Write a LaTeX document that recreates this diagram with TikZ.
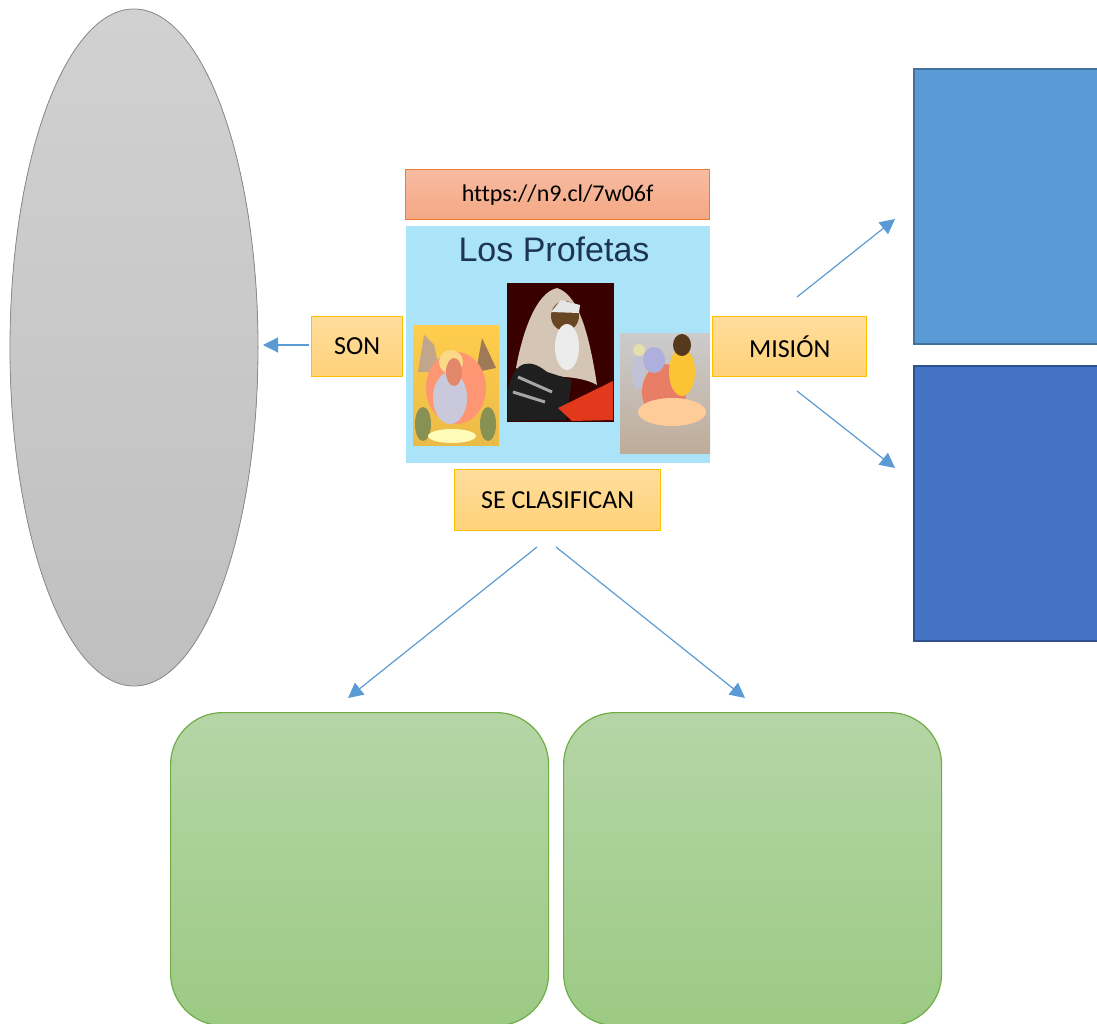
\documentclass[tikz,border=0pt]{standalone}
\usepackage{fontspec}
\setmainfont[Ligatures=NoCommon]{Carlito}
\newfontfamily\arialfont{Liberation Sans}
\usetikzlibrary{arrows.meta}
\definecolor{orangeedge}{HTML}{FFC000}
\definecolor{orangetop}{HTML}{FFDD9C}
\definecolor{orangebot}{HTML}{FFD27A}
\definecolor{urledge}{HTML}{ED7D31}
\definecolor{urltop}{HTML}{F7BBA1}
\definecolor{urlbot}{HTML}{F4A884}
\definecolor{linkblue}{HTML}{5B9BD5}
\definecolor{blueA}{HTML}{5B9BD5}
\definecolor{blueAedge}{HTML}{41719C}
\definecolor{blueB}{HTML}{4472C4}
\definecolor{blueBedge}{HTML}{2F528F}
\definecolor{greenedge}{HTML}{70AD47}
\definecolor{greentop}{HTML}{B5D5A6}
\definecolor{greenbot}{HTML}{9CCA84}
\definecolor{skybg}{HTML}{ABE3F9}
\definecolor{titleink}{HTML}{1C3550}
\tikzset{
  labelbox/.style={draw=orangeedge,line width=1.3pt,top color=orangetop,bottom color=orangebot,
    minimum height=60pt,inner sep=0pt,font=\fontsize{26}{28}\selectfont,text=black,anchor=north west},
  urlbox/.style={draw=urledge,line width=1.3pt,top color=urltop,bottom color=urlbot,
    minimum width=304pt,minimum height=50pt,inner sep=0pt,font=\fontsize{24}{26}\selectfont,text=black,anchor=north west},
  bluebox/.style={line width=2pt,anchor=north west,minimum width=200pt,minimum height=275pt,inner sep=0pt},
  greenbox/.style={draw=greenedge,line width=1.2pt,top color=greentop,bottom color=greenbot,rounded corners=52pt,
    anchor=north west,minimum width=378pt,minimum height=313pt,inner sep=0pt},
  linkarrow/.style={draw=linkblue,line width=1.2pt,-{Triangle[length=15pt,width=15pt,fill=linkblue]}},
  photo/.style={anchor=north west,inner sep=0pt},
}
\begin{document}
\begin{tikzpicture}[x=1pt,y=-1pt]
\useasboundingbox (0,0) rectangle (1097,1024);
\clip (0,0) rectangle (1097,1024);
% gray ellipse
\fill[draw=black!45,line width=.8pt,top color=black!18,bottom color=black!25] (134,347.5) ellipse [x radius=124,y radius=338.5];
% blue boxes
\node[bluebox,draw=blueAedge,fill=blueA] (mission1) at (913,68) {};
\node[bluebox,draw=blueBedge,fill=blueB] (mission2) at (913,365) {};
% green boxes
\node[greenbox] (class1) at (170,712) {};
\node[greenbox] (class2) at (563,712) {};
% url
\node[urlbox] (url) at (405,169) {\raisebox{-1.5pt}{https://n9.cl/7w06f}};
% picture panel
\node[photo,fill=skybg,minimum width=304pt,minimum height=237pt] (panel) at (406,226) {};
\node[anchor=center,inner sep=0pt,font=\arialfont\fontsize{34}{36}\selectfont,text=titleink] (title) at (554,249) {Los Profetas};
% left icon
\node[photo,minimum width=86pt,minimum height=120pt,top color=yellow!45!orange!70!white,bottom color=orange!45!yellow!60!brown!80] (iconleft) at (413,325) {};
\fill[brown!60!gray!70] (418,372) -- (424,335) -- (434,345) -- (440,372) -- cycle;
\fill[brown!70!black!80] (482,338) -- (476,372) -- (496,368) -- cycle;
\fill[red!50!orange!55!white] (456,388) ellipse [x radius=30,y radius=36];
\fill[blue!20!gray!35!white] (450,398) ellipse [x radius=17,y radius=26];
\fill[yellow!40!orange!45!white] (451,362) circle [radius=12];
\fill[red!35!brown!70] (454,372) ellipse [x radius=8,y radius=14];
\fill[green!25!brown!55!gray] (423,424) ellipse [x radius=8,y radius=17];
\fill[green!25!brown!55!gray] (488,424) ellipse [x radius=8,y radius=17];
\fill[white!60!yellow!70] (452,436) ellipse [x radius=24,y radius=7];
% central portrait
\node[photo,minimum width=107pt,minimum height=139pt,fill=black!75!red!90!black] (iconmid) at (507,283) {};
\fill[black!30!brown!35!white] (557,288) .. controls (535,293) and (522,335) .. (516,368) .. controls (535,380) and (575,372) .. (597,385) .. controls (590,340) and (580,295) .. (557,288) -- cycle;
\fill[brown!55!black] (565,316) ellipse [x radius=14,y radius=15];
\fill[gray!20!white] (561,300) -- (580,305) -- (579,313) -- (551,312) -- cycle;
\fill[gray!15!white] (567,347) ellipse [x radius=12,y radius=23];
\fill[black!88] (508,388) .. controls (515,360) and (530,358) .. (547,372) -- (572,380) -- (566,420) -- (508,421) -- cycle;
\draw[gray!70,line width=3pt] (513,392) -- (545,402);
\draw[gray!70,line width=3pt] (518,377) -- (552,392);
\fill[red!55!brown] (558,408) -- (613,381) -- (613,420) -- (572,421) -- cycle;
% right painting
\node[photo,minimum width=90pt,minimum height=120pt,top color=gray!40,bottom color=gray!55!brown!65] (iconright) at (620,333) {};
\fill[red!45!brown!70] (664,392) ellipse [x radius=22,y radius=28];
\fill[gray!60!blue!45] (654,360) ellipse [x radius=11,y radius=13];
\fill[yellow!45!orange!80] (682,372) ellipse [x radius=13,y radius=24];
\fill[orange!40!white] (672,412) ellipse [x radius=34,y radius=14];
\fill[black!55!brown] (682,345) ellipse [x radius=9,y radius=11];
\fill[blue!20!gray!40] (638,372) ellipse [x radius=6,y radius=18];
\fill[yellow!50!gray!50] (639,350) circle [radius=6];
% label boxes
\node[labelbox,minimum width=91pt] (son) at (311,316) {SON};
\node[labelbox,minimum width=154pt] (mision) at (712,316) {MISIÓN};
\node[labelbox,minimum width=206pt,minimum height=61pt] (clasifican) at (454,469) {SE CLASIFICAN};
% connector ends
\coordinate (sonstart) at (309,345);
\coordinate (sonend) at (263,345);
\coordinate (misA) at (797,297);
\coordinate (misAend) at (895,219);
\coordinate (misB) at (797,391);
\coordinate (misBend) at (895,468);
\coordinate (claA) at (537,547);
\coordinate (claAend) at (348,698);
\coordinate (claB) at (556,547);
\coordinate (claBend) at (745,698);
\draw[linkarrow] (sonstart) -- (sonend);
\draw[linkarrow] (misA) -- (misAend);
\draw[linkarrow] (misB) -- (misBend);
\draw[linkarrow] (claA) -- (claAend);
\draw[linkarrow] (claB) -- (claBend);
\end{tikzpicture}
\end{document}
